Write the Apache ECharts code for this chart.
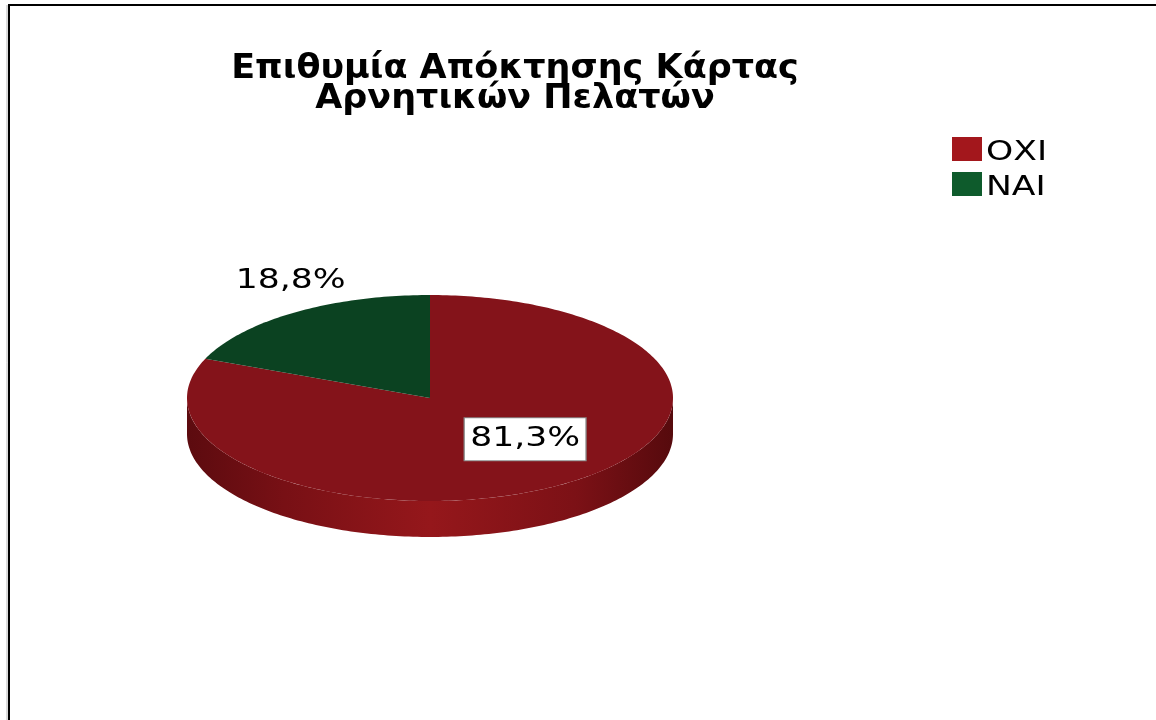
<!DOCTYPE html>
<html>
<head>
<meta charset="utf-8">
<script src="https://cdn.jsdelivr.net/npm/echarts@6/dist/echarts.min.js"></script>
<style>
  html, body { margin: 0; padding: 0; background: #fff; }
  #chart { width: 1156px; height: 720px; }
</style>
</head>
<body>
<div id="chart"></div>
<script>
// Share of customers (%) per answer
const categories = ['ΟΧΙ', 'ΝΑΙ'];
const shares = [81.3, 18.8];
const titleText = 'Επιθυμία Απόκτησης Κάρτας\nΑρνητικών Πελατών';

const topColors = ['#84131a', '#0b4221'];
const legendColors = ['#a3171c', '#0e5b2c'];

// Tilted pie geometry
const CX = 430, CY = 398, RX = 243, RY = 103, DEPTH = 36;
// horizontal widening of the wide Verdana-like lettering
const WIDE = 1.33;

const total = shares.reduce((a, b) => a + b, 0);
const startAngles = [];
{
  let acc = -90;
  shares.forEach(v => { startAngles.push(acc); acc += v / total * 360; });
}

function pt(deg, dy) {
  const r = deg * Math.PI / 180;
  return [CX + RX * Math.cos(r), CY + RY * Math.sin(r) + (dy || 0)];
}
function arc(a0, a1, dy) {
  const pts = [];
  const n = Math.max(2, Math.ceil(Math.abs(a1 - a0)));
  for (let i = 0; i <= n; i++) pts.push(pt(a0 + (a1 - a0) * i / n, dy));
  return pts;
}
function fmt(v) { return v.toFixed(1).replace('.', ',') + '%'; }

function makeRender(idx) {
  return function (params, api) {
    const value = api.value(0);
    const a0 = startAngles[idx];
    const a1 = a0 + value / total * 360;
    const children = [];

    // front wall: parts of the arc that face the viewer (0°..180°)
    [-360, 0, 360].forEach(k => {
      const s = Math.max(a0, k), e = Math.min(a1, k + 180);
      if (e > s) {
        const pts = arc(s, e, 0).concat(arc(e, s, DEPTH));
        children.push({
          type: 'polygon',
          shape: { points: pts },
          style: {
            fill: new echarts.graphic.LinearGradient(0, 0, 1, 0, idx === 0 ? [
              { offset: 0, color: '#5c0b0f' },
              { offset: 0.2, color: '#781015' },
              { offset: 0.5, color: '#95171b' },
              { offset: 0.8, color: '#7c1116' },
              { offset: 1, color: '#560a0d' }
            ] : [
              { offset: 0, color: '#062a14' },
              { offset: 0.5, color: '#0d4a25' },
              { offset: 1, color: '#062a14' }
            ])
          }
        });
      }
    });

    // top face
    children.push({
      type: 'polygon',
      shape: { points: [[CX, CY]].concat(arc(a0, a1, 0)) },
      style: { fill: topColors[idx] }
    });

    // percentage label: boxed inside the large slice, plain outside the small one
    const mid = (a0 + a1) / 2;
    const big = value / total > 0.5;
    const m = pt(mid, 0);
    const p = big ? [CX + (m[0] - CX) * 0.6, CY + (m[1] - CY) * 0.6] : m;
    const style = {
      text: fmt(value),
      fontFamily: 'DejaVu Sans',
      fontSize: 26,
      fill: '#000',
      align: 'center',
      verticalAlign: 'middle'
    };
    if (big) {
      Object.assign(style, {
        backgroundColor: '#fff',
        borderColor: '#8a8a8a',
        borderWidth: 1,
        padding: [8, 4, 8, 4]
      });
    }
    children.push({
      type: 'text',
      x: p[0] + (big ? 14 : -4),
      y: p[1] + (big ? -10 : -31),
      scaleX: WIDE,
      style: style
    });

    return { type: 'group', children: children };
  };
}

// legend swatches and names
const legendGraphics = [];
categories.forEach((name, i) => {
  const top = 137 + i * 35;
  legendGraphics.push({
    type: 'rect',
    shape: { x: 952, y: top, width: 30, height: 24 },
    style: { fill: legendColors[i] },
    silent: true
  });
  legendGraphics.push({
    type: 'text',
    x: 986,
    y: top + 16,
    scaleX: WIDE,
    style: {
      text: name,
      fontFamily: 'DejaVu Sans',
      fontSize: 26,
      fill: '#000',
      align: 'left',
      verticalAlign: 'middle'
    },
    silent: true
  });
});

const chart = echarts.init(document.getElementById('chart'), null, { renderer: 'canvas' });
chart.setOption({
  animation: false,
  backgroundColor: '#fff',
  color: legendColors,
  graphic: [
    {
      type: 'line',
      shape: { x1: 7, y1: 5, x2: 7, y2: 720 },
      style: { stroke: '#b5b5b5', lineWidth: 1 },
      silent: true
    },
    {
      type: 'polyline',
      shape: { points: [[9, 720], [9, 5], [1156, 5]] },
      style: { stroke: '#000', lineWidth: 2, fill: null },
      silent: true
    },
    {
      type: 'text',
      x: 515,
      y: 54,
      scaleX: 1.06,
      style: {
        text: titleText,
        fontFamily: 'DejaVu Sans',
        fontWeight: 'bold',
        fontSize: 33,
        lineHeight: 30,
        fill: '#000',
        align: 'center',
        verticalAlign: 'top'
      },
      silent: true
    }
  ].concat(legendGraphics),
  series: categories.map((name, i) => ({
    type: 'custom',
    name: name,
    coordinateSystem: 'none',
    z: i + 1,
    itemStyle: { color: legendColors[i] },
    renderItem: makeRender(i),
    data: [[shares[i]]]
  }))
});
</script>
</body>
</html>
